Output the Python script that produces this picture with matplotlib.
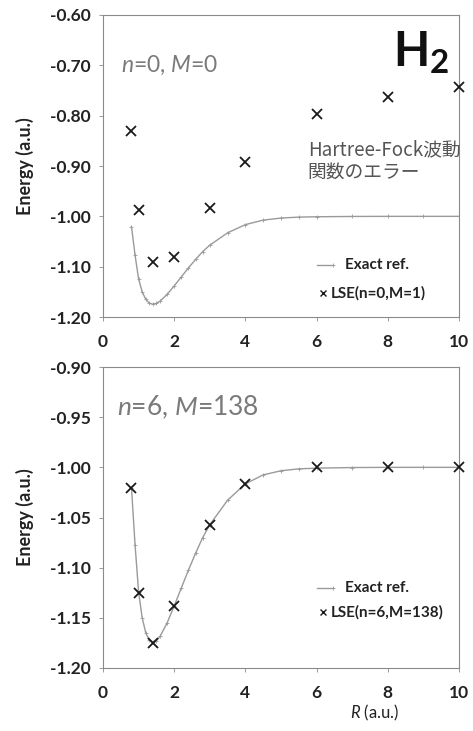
import matplotlib
matplotlib.use("Agg")
import matplotlib.pyplot as plt

plt.rcParams['font.family'] = ['Lato', 'Noto Sans CJK JP', 'DejaVu Sans']
plt.rcParams['mathtext.fontset'] = 'custom'
plt.rcParams['mathtext.rm'] = 'Lato'
plt.rcParams['mathtext.it'] = 'Lato:italic'
plt.rcParams['mathtext.bf'] = 'Lato:bold'

# Exact Born-Oppenheimer reference curve for H2 (hartree)
r_exact = [0.8, 0.9, 1.0, 1.1, 1.2, 1.3, 1.4, 1.5, 1.6, 1.8, 2.0, 2.2, 2.4,
           2.6, 2.8, 3.0, 3.5, 4.0, 4.5, 5.0, 5.5, 6.0, 7.0, 8.0, 9.0, 10.0]
e_exact = [-1.0204, -1.0772, -1.1245, -1.1499, -1.1649, -1.1723, -1.1745,
           -1.1729, -1.1686, -1.1551, -1.1381, -1.1202, -1.1024, -1.0856,
           -1.0700, -1.0572, -1.0327, -1.0164, -1.0075, -1.0034, -1.0015,
           -1.0008, -1.0002, -1.0000, -1.0000, -1.0000]

# LSE sample points
r_lse = [0.8, 1.0, 1.4, 2.0, 3.0, 4.0, 6.0, 8.0, 10.0]
e_lse_hf = [-0.830, -0.987, -1.091, -1.081, -0.983, -0.892, -0.797, -0.763, -0.743]
e_lse_n6 = [-1.0206, -1.125, -1.175, -1.138, -1.0575, -1.0166, -1.0000, -1.0000, -1.0000]

x_ticks = [0, 2, 4, 6, 8, 10]
y_ticks_top = [-0.60, -0.70, -0.80, -0.90, -1.00, -1.10, -1.20]
y_ticks_bot = [-0.90, -0.95, -1.00, -1.05, -1.10, -1.15, -1.20]

fig = plt.figure(figsize=(4.73, 7.31), dpi=100)
ax1 = fig.add_axes([0.2178, 0.5663, 0.7526, 0.4132])
ax2 = fig.add_axes([0.2178, 0.0862, 0.7526, 0.4117])

line_col = '#9a9a9a'
spine_col = '#8a8a8a'
text_col = '#222222'


def style(ax, yticks, ylim):
    ax.set_xlim(0, 10)
    ax.set_ylim(*ylim)
    ax.set_xticks(x_ticks)
    ax.set_xticklabels([str(t) for t in x_ticks])
    ax.set_yticks(yticks)
    ax.set_yticklabels([f"{t:.2f}" for t in yticks])
    for s in ax.spines.values():
        s.set_color(spine_col)
        s.set_linewidth(0.8)
    ax.tick_params(axis='both', colors=spine_col, length=3, width=0.6,
                   labelcolor=text_col, labelsize=12.5)
    ax.tick_params(axis='x', pad=9)
    ax.tick_params(axis='y', pad=6)
    for lab in ax.get_xticklabels() + ax.get_yticklabels():
        lab.set_fontweight('bold')
    ax.set_ylabel('Energy (a.u.)', fontsize=13, fontweight='bold',
                  color=text_col)
    ax.yaxis.set_label_coords(-0.195, 0.5)


def draw(ax, e_lse, label, y_exact, y_lse):
    ax.plot(r_exact, e_exact, color=line_col, lw=1.0, marker='+',
            markersize=3, markeredgewidth=0.6, zorder=2)
    ax.plot(r_lse, e_lse, linestyle='none', marker='x', color='#1a1a1a',
            markersize=7, markeredgewidth=1.3, clip_on=False, zorder=3)
    # legend entries
    ax.plot([0.60, 0.645], [y_exact, y_exact], transform=ax.transAxes,
            color=line_col, lw=1.0, marker='+', markersize=3,
            markeredgewidth=0.6, markevery=[1])
    ax.text(0.68, y_exact, 'Exact ref.', transform=ax.transAxes,
            fontsize=11, fontweight='bold', color=text_col,
            va='center', ha='left')
    ax.plot([0.617], [y_lse], transform=ax.transAxes, linestyle='none',
            marker='x', color='#1a1a1a', markersize=5, markeredgewidth=1.0)
    ax.text(0.64, y_lse, label, transform=ax.transAxes,
            fontsize=11, fontweight='bold', color=text_col,
            va='center', ha='left')


style(ax1, y_ticks_top, (-1.20, -0.60))
draw(ax1, e_lse_hf, 'LSE(n=0,M=1)', 0.172, 0.079)
ax1.text(0.05, 0.834, r'$n$=0, $M$=0', transform=ax1.transAxes,
         fontsize=16.5, color='#7a7a7a', va='center', ha='left')
ax1.text(0.815, 0.875, r'H$_\mathbf{2}$', transform=ax1.transAxes,
         fontsize=34, fontweight='bold', color='#111111', va='center',
         ha='left')
ax1.text(0.575, 0.517, 'Hartree-Fock波動\n関数のエラー', transform=ax1.transAxes,
         fontsize=13.5, color='#555555', va='center', ha='left',
         family=['Noto Sans CJK JP', 'DejaVu Sans'], linespacing=1.1)

style(ax2, y_ticks_bot, (-1.20, -0.90))
draw(ax2, e_lse_n6, 'LSE(n=6,M=138)', 0.266, 0.186)
ax2.text(0.04, 0.867, r'$n$=6, $M$=138', transform=ax2.transAxes,
         fontsize=19, color='#7a7a7a', va='center', ha='left')
ax2.set_xlabel(r'$R$ (a.u.)', fontsize=12, color=text_col)
ax2.xaxis.set_label_coords(0.764, -0.115)

fig.savefig('out.png', dpi=100)
